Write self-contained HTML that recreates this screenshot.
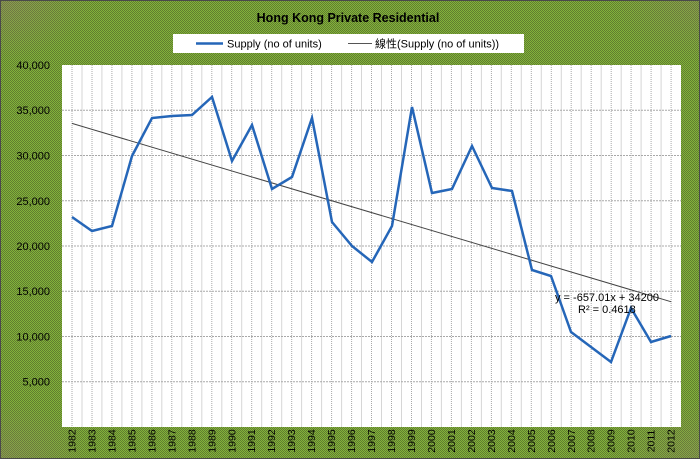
<!DOCTYPE html>
<html><head><meta charset="utf-8"><style>
html,body{margin:0;padding:0;width:700px;height:459px;overflow:hidden;}
.bg{position:absolute;left:0;top:0;width:700px;height:459px;
background-color:#719636;
background-image:
radial-gradient(ellipse 90px 60px at 0 0, rgba(150,110,120,0.35), rgba(150,110,120,0) 100%),
radial-gradient(ellipse 90px 60px at 0 459px, rgba(150,110,120,0.3), rgba(150,110,120,0) 100%),
radial-gradient(ellipse 90px 60px at 700px 0, rgba(150,110,120,0.25), rgba(150,110,120,0) 100%),
radial-gradient(ellipse 90px 60px at 700px 459px, rgba(150,110,120,0.25), rgba(150,110,120,0) 100%),
repeating-conic-gradient(#84b33a 0 25%, #5f7d30 0 50%);
background-size:100% 100%,100% 100%,100% 100%,100% 100%,2px 2px;box-sizing:border-box;border:1px solid #4a4a4a;}
svg{position:absolute;left:0;top:0;}
text{font-family:"Liberation Sans","Noto Sans CJK TC",sans-serif;fill:#000;}
</style></head><body>
<div class="bg"></div>
<svg width="700" height="459" viewBox="0 0 700 459" xmlns="http://www.w3.org/2000/svg">
<text x="348" y="22" text-anchor="middle" font-size="12.5" font-weight="bold">Hong Kong Private Residential</text>
<rect x="173" y="34" width="351" height="19" fill="#fff"/>
<line x1="196" y1="43.5" x2="223" y2="43.5" stroke="#2566b8" stroke-width="2.5"/>
<text x="227" y="47.5" font-size="11">Supply (no of units)</text>
<line x1="348" y1="43.5" x2="372" y2="43.5" stroke="#555" stroke-width="1"/>
<text x="375" y="47.5" font-size="11">線性(Supply (no of units))</text>
<rect x="62" y="65" width="619" height="362" fill="#fff"/>
<g id="vg"></g>
<g stroke="#a8a8a8" stroke-width="1" stroke-dasharray="2,1">
<line x1="62" x2="681" y1="381.75" y2="381.75"/>
<line x1="62" x2="681" y1="336.5" y2="336.5"/>
<line x1="62" x2="681" y1="291.25" y2="291.25"/>
<line x1="62" x2="681" y1="246" y2="246"/>
<line x1="62" x2="681" y1="200.75" y2="200.75"/>
<line x1="62" x2="681" y1="155.5" y2="155.5"/>
<line x1="62" x2="681" y1="110.25" y2="110.25"/>
</g>
<g font-size="11" text-anchor="end">
<text x="50" y="69">40,000</text>
<text x="50" y="114">35,000</text>
<text x="50" y="159.5">30,000</text>
<text x="50" y="205">25,000</text>
<text x="50" y="250">20,000</text>
<text x="50" y="295">15,000</text>
<text x="50" y="340.5">10,000</text>
<text x="50" y="385.5">5,000</text>
</g>
<line x1="72" y1="123.4" x2="671.3" y2="301.8" stroke="#444" stroke-width="1"/>
<polyline fill="none" stroke="#2566b8" stroke-width="2.5" stroke-linejoin="miter" points="72,217 92,231 112,226 132,156 152,118 172,116 192,115 212,97 232,161 252,125 272,189 292,177 312,118 332,222 352,246 372,262 392,226 412,107 432,193 452,189 472,146 492,188 512,191 532,270 551,276 571,332 591,347 611,362 631,308 651,342 671,336"/>
<text x="555" y="301" font-size="11">y = -657.01x + 34200</text>
<text x="578" y="313" font-size="11">R² = 0.4618</text>
<g id="xl" font-size="10.5" text-anchor="middle"></g>
</svg>
<script>
(function(){
var ns="http://www.w3.org/2000/svg";
var vg=document.getElementById("vg");
for(var k=1;k<62;k++){
 var x=62+k*9.985;
 var l=document.createElementNS(ns,"line");
 l.setAttribute("x1",x.toFixed(1));l.setAttribute("x2",x.toFixed(1));
 l.setAttribute("y1","65");l.setAttribute("y2","427");
 if(k%2==1){l.setAttribute("stroke","#a8a8a8");l.setAttribute("stroke-dasharray","1,1");}
 else{l.setAttribute("stroke","#d6d6d6");}
 l.setAttribute("stroke-width","1");
 vg.appendChild(l);
}
var xl=document.getElementById("xl");
for(var i=0;i<31;i++){
 var cx=72+i*19.97, cy=441;
 var t=document.createElementNS(ns,"text");
 t.setAttribute("x",cx.toFixed(1));t.setAttribute("y",(cy+3.5).toFixed(1));
 t.setAttribute("transform","rotate(-90 "+cx.toFixed(1)+" "+cy+")");
 t.textContent=String(1982+i);
 xl.appendChild(t);
}
})();
</script>
</body></html>
